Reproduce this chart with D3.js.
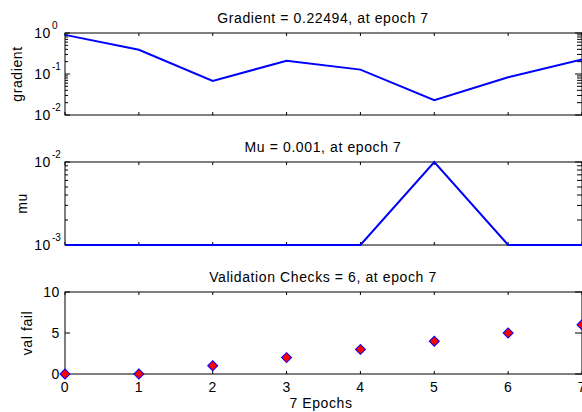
<!DOCTYPE html>
<html>
<head>
<meta charset="utf-8">
<script src="https://cdn.jsdelivr.net/npm/d3@7"></script>
<style>
body { margin: 0; background: #fff; }
text { font-family: "Liberation Sans", Arial, sans-serif; font-size: 14px; letter-spacing: 0.6px; fill: #000; }
</style>
</head>
<body>
<div id="chart"></div>
<script>
var epochs = [0, 1, 2, 3, 4, 5, 6, 7];
var gradient = [0.9, 0.39, 0.068, 0.21, 0.128, 0.023, 0.083, 0.22494];
var mu = [0.001, 0.001, 0.001, 0.001, 0.001, 0.01, 0.001, 0.001];
var valFail = [0, 0, 1, 2, 3, 4, 5, 6];
var titles = ["Gradient = 0.22494, at epoch 7", "Mu = 0.001, at epoch 7", "Validation Checks = 6, at epoch 7"];
var yLabels = ["gradient", "mu", "val fail"];

function init() {
  var width = 582, height = 412;
  var svg = d3.select("#chart").append("svg")
    .attr("width", width).attr("height", height);

  var x = d3.scaleLinear().domain([0, 7]).range([65, 582]);

  var panels = [
    { top: 33, bottom: 115, data: gradient, log: true, domain: [0.01, 1], exps: [0, -1, -2], labX: 22 },
    { top: 162, bottom: 245, data: mu, log: true, domain: [0.001, 0.01], exps: [-2, -3], labX: 27 },
    { top: 292, bottom: 374, data: valFail, log: false, domain: [0, 10], ticks: [0, 5, 10], labX: 32 }
  ];

  panels.forEach(function(p, i) {
    var y = p.log ? d3.scaleLog().domain(p.domain).range([p.bottom, p.top])
                  : d3.scaleLinear().domain(p.domain).range([p.bottom, p.top]);
    var g = svg.append("g");

    // title
    g.append("text").attr("x", 323).attr("y", p.top - 10)
      .attr("text-anchor", "middle").text(titles[i]);

    // y label
    g.append("text")
      .attr("transform", "translate(" + p.labX + "," + ((p.top + p.bottom) / 2) + ") rotate(-90)")
      .attr("text-anchor", "middle").text(yLabels[i]);

    // x ticks inside at top and bottom
    epochs.forEach(function(e) {
      g.append("line").attr("x1", x(e)).attr("x2", x(e))
        .attr("y1", p.bottom).attr("y2", p.bottom - 3).attr("stroke", "#000");
      g.append("line").attr("x1", x(e)).attr("x2", x(e))
        .attr("y1", p.top).attr("y2", p.top + 3).attr("stroke", "#000");
    });

    // y ticks
    if (p.log) {
      var lo = Math.round(Math.log10(p.domain[0])), hi = Math.round(Math.log10(p.domain[1]));
      for (var d = lo; d < hi; d++) {
        for (var m = 2; m <= 9; m++) {
          var yy = y(m * Math.pow(10, d));
          g.append("line").attr("x1", 65).attr("x2", 68).attr("y1", yy).attr("y2", yy).attr("stroke", "#000");
          g.append("line").attr("x1", 582).attr("x2", 577).attr("y1", yy).attr("y2", yy).attr("stroke", "#000");
        }
      }
      p.exps.forEach(function(ex) {
        var yy = y(Math.pow(10, ex));
        g.append("line").attr("x1", 65).attr("x2", 70).attr("y1", yy).attr("y2", yy).attr("stroke", "#000");
        g.append("line").attr("x1", 582).attr("x2", 575).attr("y1", yy).attr("y2", yy).attr("stroke", "#000");
        g.append("text").attr("x", 51).attr("y", yy + 5).attr("text-anchor", "end").text("10");
        g.append("text").attr("x", 52).attr("y", yy - 4)
          .style("font-size", "10px").style("letter-spacing", "0px").text(ex);
      });
    } else {
      p.ticks.forEach(function(v) {
        var yy = y(v);
        g.append("line").attr("x1", 65).attr("x2", 70).attr("y1", yy).attr("y2", yy).attr("stroke", "#000");
        g.append("line").attr("x1", 582).attr("x2", 575).attr("y1", yy).attr("y2", yy).attr("stroke", "#000");
        g.append("text").attr("x", 60).attr("y", yy + 5).attr("text-anchor", "end").text(v);
      });
    }

    // box
    g.append("rect").attr("x", 65).attr("y", p.top)
      .attr("width", 582 - 65).attr("height", p.bottom - p.top)
      .attr("fill", "none").attr("stroke", "#000").attr("stroke-width", 1);

    if (i < 2) {
      var line = d3.line().x(function(d, k) { return x(epochs[k]); }).y(function(d) { return y(d); });
      g.append("path").datum(p.data).attr("d", line)
        .attr("fill", "none").attr("stroke", "#0000ff").attr("stroke-width", 2);
    } else {
      g.selectAll("path.pt").data(p.data).enter().append("path")
        .attr("class", "pt")
        .attr("d", d3.symbol().type(d3.symbolSquare).size(50))
        .attr("transform", function(d, k) { return "translate(" + x(epochs[k]) + "," + y(d) + ") rotate(45)"; })
        .attr("fill", "#ff0000").attr("stroke", "#0000ff").attr("stroke-width", 1);

      epochs.forEach(function(e) {
        g.append("text").attr("x", x(e)).attr("y", p.bottom + 18)
          .attr("text-anchor", "middle").text(e);
      });
      g.append("text").attr("x", 321).attr("y", p.bottom + 34)
        .attr("text-anchor", "middle").text("7 Epochs");
    }
  });
}

window.onload = init;
</script>
</body>
</html>
